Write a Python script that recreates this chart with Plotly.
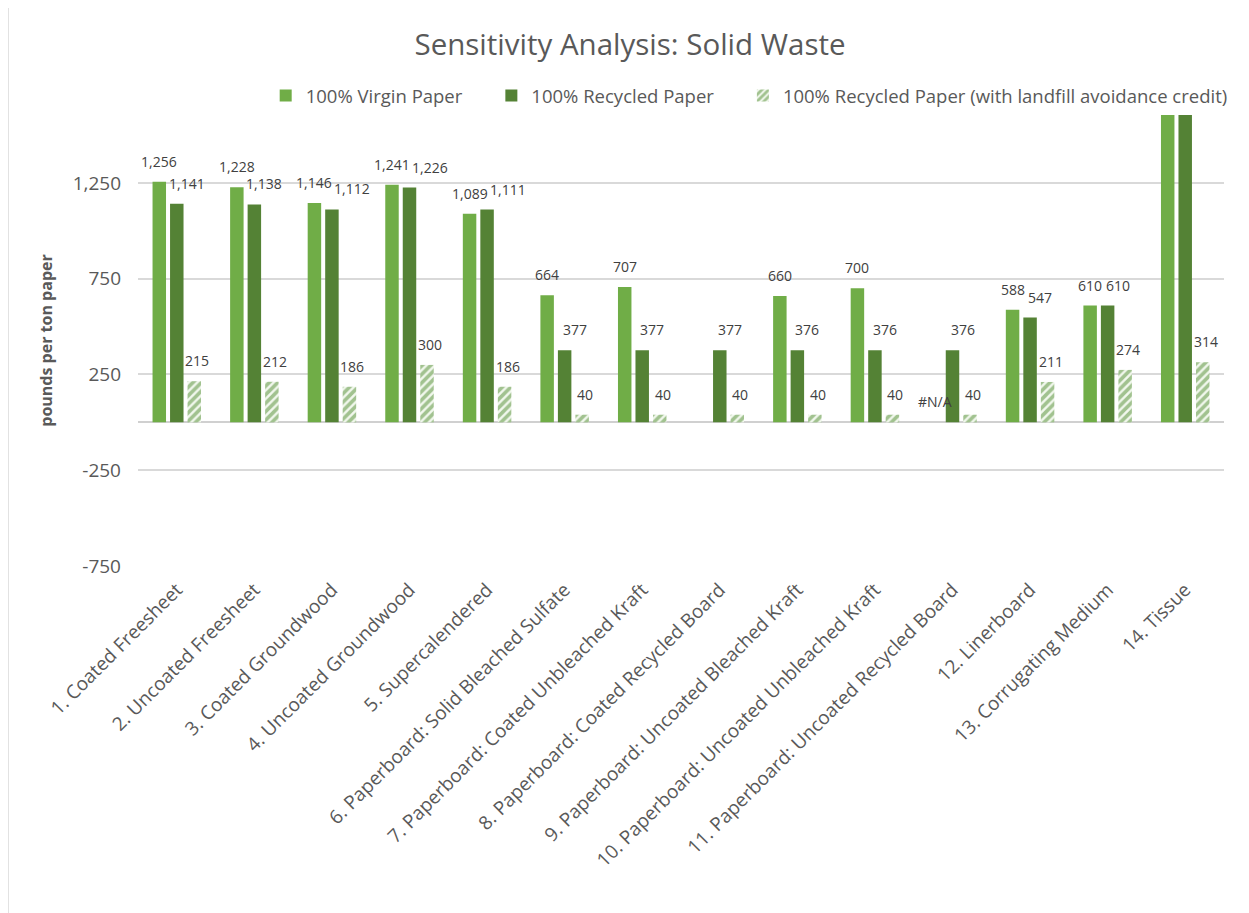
import plotly.graph_objects as go

categories = [
    "1. Coated Freesheet", "2. Uncoated Freesheet", "3. Coated Groundwood",
    "4. Uncoated Groundwood", "5. Supercalendered",
    "6. Paperboard: Solid Bleached Sulfate", "7. Paperboard: Coated Unbleached Kraft",
    "8. Paperboard: Coated Recycled Board", "9. Paperboard: Uncoated Bleached Kraft",
    "10. Paperboard: Uncoated Unbleached Kraft", "11. Paperboard: Uncoated Recycled Board",
    "12. Linerboard", "13. Corrugating Medium", "14. Tissue",
]
# None = empty cell, "#N/A" = error cell shown as a label
virgin = [1256, 1228, 1146, 1241, 1089, 664, 707, None, 660, 700, "#N/A", 588, 610, 1750]
recycled = [1141, 1138, 1112, 1226, 1111, 377, 377, 377, 376, 376, 376, 547, 610, 1750]
credit = [215, 212, 186, 300, 186, 40, 40, 40, 40, 40, 40, 211, 274, 314]

y_range = [-750, 1605]
y_ticks = [-750, -250, 250, 750, 1250]

GRAY = "#595959"
LABEL = "#404040"
FONT = "Open Sans"

# plot geometry (px) used to keep data labels from running into each other
W, H = 1249, 913
M = dict(l=130, r=33, t=107, b=355)
PLOT_H = H - M["t"] - M["b"]
PPU = PLOT_H / (y_range[1] - y_range[0])
SLOT = (W - M["l"] - M["r"]) / len(categories) * (1 - 0.323) / 3
LAB_H, LAB_LIFT = 17, 10

NBSP = "\u00a0" * 5


def num(v):
    return v if isinstance(v, (int, float)) else None


fig = go.Figure()
fig.add_trace(go.Bar(x=categories, y=[num(v) for v in virgin], name="100% Virgin Paper" + NBSP,
                     marker=dict(color="#70AD47", line=dict(width=0))))
fig.add_trace(go.Bar(x=categories, y=recycled, name="100% Recycled Paper" + NBSP,
                     marker=dict(color="#548235", line=dict(width=0))))
fig.add_trace(go.Bar(x=categories, y=credit,
                     name="100% Recycled Paper (with landfill avoidance credit)",
                     marker=dict(color="#F2F8EE", line=dict(width=0),
                                 pattern=dict(shape="/", fgcolor="#4F8B30",
                                              bgcolor="#F2F8EE", size=6, solidity=0.6))))


def lab_width(txt):
    return sum(4 if ch == "," else 8 for ch in txt)


def add_label(cat, val, txt, dx):
    fig.add_annotation(x=cat, y=val, text=txt, showarrow=False, xshift=dx,
                       yanchor="bottom", yshift=LAB_LIFT, borderpad=0,
                       font=dict(family=FONT, size=14, color=LABEL))


for cat, v, r, c in zip(categories, virgin, recycled, credit):
    vbox = None
    if v is not None:
        vtxt = v if isinstance(v, str) else f"{v:,}"
        vval = num(v) or 0
        if vval <= y_range[1]:
            add_label(cat, vval, vtxt, -SLOT)
            w = lab_width(vtxt)
            vbox = (-SLOT + w / 2, vval * PPU + LAB_LIFT, vval * PPU + LAB_LIFT + LAB_H)
    if r <= y_range[1]:
        rtxt = f"{r:,}"
        w = lab_width(rtxt)
        dx = 10
        rb, rt = r * PPU + LAB_LIFT, r * PPU + LAB_LIFT + LAB_H
        if vbox and rt > vbox[1] and rb < vbox[2] and dx - w / 2 < vbox[0]:
            dx = vbox[0] + w / 2 + 2
        add_label(cat, r, rtxt, dx)
    if c <= y_range[1]:
        add_label(cat, c, f"{c:,}", SLOT + 3)

fig.add_shape(type="line", xref="paper", yref="paper",
              x0=-M["l"] / (W - M["l"] - M["r"]), x1=-M["l"] / (W - M["l"] - M["r"]),
              y0=-0.8, y1=1.3, line=dict(color="#D9D9D9", width=1.5))

fig.update_layout(
    width=W, height=H,
    margin=M,
    paper_bgcolor="white", plot_bgcolor="white",
    barmode="group", bargap=0.323, bargroupgap=0.23,
    title=dict(text="Sensitivity Analysis: Solid Waste", x=0.498, xanchor="center",
               y=0.9595, yanchor="middle", font=dict(family=FONT, size=29.5, color=GRAY)),
    legend=dict(orientation="h", x=1.008, xanchor="right", y=1.042, yanchor="middle",
                font=dict(family=FONT, size=18.5, color=GRAY), traceorder="normal",
                itemwidth=30),
    showlegend=True,
)
fig.update_xaxes(tickangle=-45, tickfont=dict(family=FONT, size=19, color=GRAY),
                 ticklabelstandoff=8,
                 showline=False, showgrid=False, ticks="", automargin=False)
fig.update_yaxes(range=y_range, tickvals=y_ticks, ticktext=[f"{v:,}" for v in y_ticks],
                 tickfont=dict(family=FONT, size=19, color=GRAY), automargin=False,
                 ticklabelstandoff=16,
                 showgrid=True, gridcolor="#D9D9D9", gridwidth=1.5,
                 zeroline=True, zerolinecolor="#D0D0D0", zerolinewidth=2,
                 title=dict(text="<b>pounds per ton paper</b>", standoff=16,
                            font=dict(family=FONT, size=16, color=GRAY)))

fig.write_html("out.html")
